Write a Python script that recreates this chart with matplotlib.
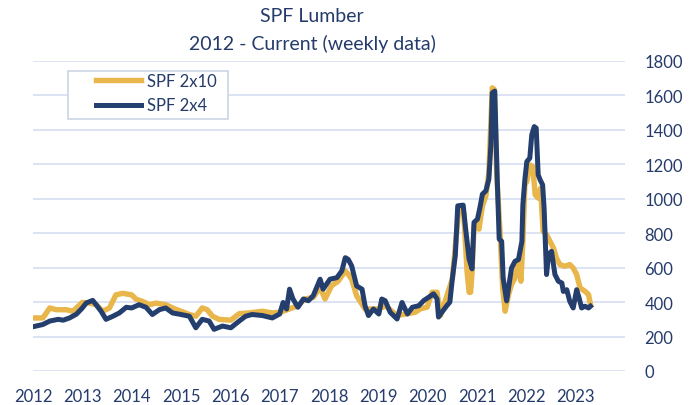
import matplotlib.pyplot as plt
from matplotlib.patches import Rectangle
import numpy as np

navy = "#243F6E"
gold = "#E8B64A"
text_col = "#243B6B"
grid_col = "#D9E1F2"

# SPF 2x10 (decimal year, price)
t_2x10 = [2012.00, 2012.20, 2012.34, 2012.47, 2012.67, 2012.81, 2013.00, 2013.15, 2013.28,
          2013.41, 2013.55, 2013.68, 2013.82, 2014.00, 2014.09, 2014.22, 2014.36, 2014.49,
          2014.69, 2014.83, 2015.00, 2015.17, 2015.30, 2015.43, 2015.53, 2015.64, 2015.77,
          2016.01, 2016.18, 2016.38, 2016.65, 2016.85, 2017.00, 2017.10, 2017.37, 2017.51,
          2017.68, 2017.82, 2017.92, 2018.05, 2018.19, 2018.33, 2018.39, 2018.46, 2018.56,
          2018.73, 2018.80, 2019.01, 2019.14, 2019.38, 2019.55, 2019.75, 2019.85, 2019.99,
          2020.09, 2020.19, 2020.26, 2020.50, 2020.63, 2020.73, 2020.80, 2020.84, 2020.87,
          2020.90, 2020.94, 2021.01, 2021.04, 2021.11, 2021.18, 2021.24, 2021.31, 2021.35,
          2021.40, 2021.47, 2021.52, 2021.57, 2021.64, 2021.70, 2021.77, 2021.84, 2021.89,
          2021.93, 2021.97, 2022.01, 2022.07, 2022.13, 2022.18, 2022.24, 2022.29, 2022.34,
          2022.41, 2022.48, 2022.55, 2022.61, 2022.68, 2022.78, 2022.88, 2022.95, 2023.02,
          2023.09, 2023.19, 2023.26, 2023.30]
p_2x10 = [308, 308, 366, 356, 356, 347, 398, 394, 385,
          347, 366, 442, 451, 442, 417, 404, 385, 394,
          385, 366, 347, 328, 318, 366, 356, 318, 300,
          295, 333, 337, 347, 337, 341, 350, 379, 418,
          427, 485, 418, 494, 523, 581, 562, 533, 437,
          360, 360, 360, 379, 322, 331, 341, 361, 371,
          457, 457, 322, 535, 940, 921, 573, 457, 457,
          573, 843, 843, 824, 959, 1017, 1152, 1644, 1635,
          1140, 791, 482, 347, 444, 502, 540, 637, 521,
          753, 1081, 1100, 1197, 1187, 1023, 1004, 1062, 811,
          791, 753, 714, 656, 618, 608, 618, 598, 560,
          482, 463, 444, 386]

# SPF 2x4 (decimal year, price)
t_2x4 = [2012.00, 2012.20, 2012.34, 2012.51, 2012.61, 2012.74, 2012.88, 2013.00, 2013.08,
         2013.21, 2013.28, 2013.38, 2013.48, 2013.62, 2013.75, 2013.89, 2014.00, 2014.15,
         2014.29, 2014.42, 2014.56, 2014.69, 2014.83, 2015.00, 2015.17, 2015.30, 2015.43,
         2015.57, 2015.67, 2015.84, 2016.01, 2016.18, 2016.31, 2016.44, 2016.65, 2016.85,
         2017.00, 2017.07, 2017.14, 2017.20, 2017.27, 2017.37, 2017.48, 2017.58, 2017.68,
         2017.82, 2017.88, 2018.02, 2018.16, 2018.26, 2018.33, 2018.39, 2018.46, 2018.56,
         2018.67, 2018.73, 2018.80, 2018.90, 2019.01, 2019.07, 2019.14, 2019.24, 2019.38,
         2019.48, 2019.59, 2019.69, 2019.82, 2019.92, 2020.02, 2020.12, 2020.19, 2020.22,
         2020.29, 2020.39, 2020.45, 2020.50, 2020.56, 2020.61, 2020.72, 2020.77, 2020.84,
         2020.90, 2020.94, 2021.01, 2021.06, 2021.11, 2021.18, 2021.24, 2021.28, 2021.31,
         2021.36, 2021.41, 2021.45, 2021.50, 2021.53, 2021.60, 2021.66, 2021.70, 2021.77,
         2021.84, 2021.91, 2021.93, 2021.97, 2022.01, 2022.07, 2022.11, 2022.16, 2022.20,
         2022.24, 2022.28, 2022.33, 2022.36, 2022.41, 2022.45, 2022.51, 2022.55, 2022.58,
         2022.65, 2022.72, 2022.75, 2022.82, 2022.88, 2022.95, 2023.02, 2023.07, 2023.12,
         2023.19, 2023.26, 2023.30]
p_2x4 = [257, 270, 290, 300, 295, 308, 330, 366, 395,
         410, 385, 347, 300, 318, 337, 370, 366, 385,
         370, 328, 356, 366, 337, 328, 318, 251, 300,
         290, 242, 261, 251, 290, 318, 328, 322, 308,
         331, 398, 360, 475, 418, 370, 418, 408, 437,
         533, 475, 533, 542, 581, 658, 648, 610, 494,
         475, 379, 322, 360, 331, 418, 408, 341, 302,
         398, 331, 370, 379, 409, 428, 448, 419, 313,
         342, 380, 400, 535, 670, 959, 963, 824, 650,
         593, 863, 882, 950, 1027, 1046, 1114, 1307, 1615,
         1625, 1114, 766, 753, 540, 407, 521, 598, 637,
         647, 753, 965, 1110, 1216, 1236, 1371, 1419, 1410,
         1139, 1110, 1081, 946, 560, 676, 695, 618, 560,
         521, 511, 462, 472, 405, 366, 472, 424, 366,
         376, 366, 376]

years = list(range(2012, 2024))
y_ticks = list(range(0, 1801, 200))

plt.rcParams['font.family'] = ['Lato', 'DejaVu Sans']

fig = plt.figure(figsize=(7, 4.06), dpi=100)
ax = fig.add_axes([33 / 700, 1 - 372 / 406, 592 / 700, 310 / 406])

ln1, = ax.plot(t_2x10, p_2x10, color=gold, lw=3.9, label='SPF 2x10', solid_joinstyle='round')
ln2, = ax.plot(t_2x4, p_2x4, color=navy, lw=3.6, label='SPF 2x4', solid_joinstyle='round')

ax.set_xlim(2012, 2024)
ax.set_ylim(0, 1800)
ax.set_xticks(years)
ax.set_xticklabels([str(y) for y in years])
ax.set_yticks(y_ticks)
ax.yaxis.tick_right()
ax.tick_params(axis='both', length=0, labelsize=12, labelcolor=text_col)
ax.tick_params(axis='y', pad=14)
ax.tick_params(axis='x', pad=12)

ax.grid(axis='y', color=grid_col, lw=1.3)
ax.set_axisbelow(True)
for s in ax.spines.values():
    s.set_visible(False)

fig.text(0.446, 1 - 16 / 406, 'SPF Lumber', ha='center', va='center', fontsize=14, color=text_col)
fig.text(0.446, 1 - 44 / 406, '2012 - Current (weekly data)', ha='center', va='center',
         fontsize=14, color=text_col)

# legend box (white, opaque) and entries
box = Rectangle((68 / 700, 1 - 120 / 406), 160 / 700, 48 / 406, transform=fig.transFigure,
                facecolor='white', edgecolor='#CCD5E6', lw=1.2, zorder=2)
fig.add_artist(box)
leg = fig.legend([ln1, ln2], ['SPF 2x10', 'SPF 2x4'], loc='upper left',
                 bbox_to_anchor=(96 / 700, 1 - 74 / 406), fontsize=12, frameon=False,
                 handlelength=2.7, borderpad=0, labelspacing=0.5, handletextpad=0.35,
                 borderaxespad=0)
leg.set_zorder(3)
for t in leg.get_texts():
    t.set_color(text_col)

fig.savefig('out.png', dpi=100)
